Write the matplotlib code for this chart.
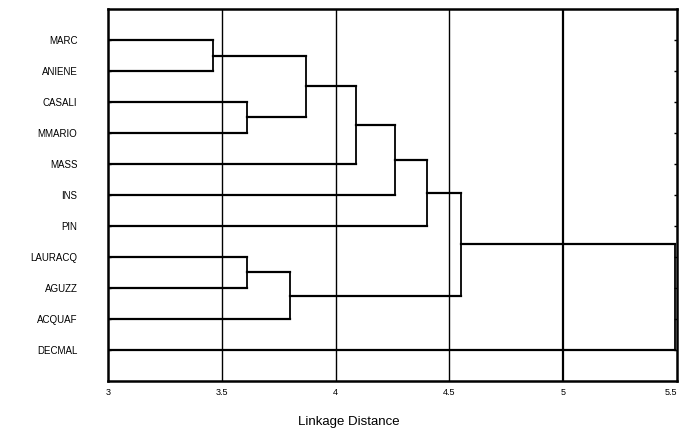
import numpy as np
import matplotlib
matplotlib.use('Agg')
import matplotlib.pyplot as plt

plt.rcParams['font.family'] = ['Liberation Sans', 'DejaVu Sans']

# Leaves, top to bottom
leaves = ['MARC', 'ANIENE', 'CASALI', 'MMARIO', 'MASS', 'INS', 'PIN',
          'LAURACQ', 'AGUZZ', 'ACQUAF', 'DECMAL']

# Joins: (left node, right node, linkage distance); new nodes numbered from 11
join_left = [0, 2, 11, 13, 14, 15, 7, 17, 16, 19]
join_right = [1, 3, 12, 4, 5, 6, 8, 9, 18, 10]
join_dist = [3.46, 3.61, 3.87, 4.09, 4.26, 4.40, 3.61, 3.80, 4.55, 5.49]

x_min, x_max = 3.0, 5.5
xticks = [3, 3.5, 4, 4.5, 5, 5.5]
xtick_labels = ['3', '3.5', '4', '4.5', '5', '5.5']

fig = plt.figure(figsize=(6.81, 4.29), dpi=100)
ax = fig.add_axes([0.1586, 0.112, 0.8355, 0.867])

# node positions: y (leaf index) and x (height)
pos_y = {i: i + 1 for i in range(len(leaves))}
pos_x = {i: x_min for i in range(len(leaves))}

for k, (a, b, d) in enumerate(zip(join_left, join_right, join_dist)):
    node = len(leaves) + k
    ax.plot([pos_x[a], d], [pos_y[a], pos_y[a]], color='black', lw=1.6)
    ax.plot([pos_x[b], d], [pos_y[b], pos_y[b]], color='black', lw=1.6)
    ax.plot([d, d], [pos_y[a], pos_y[b]], color='black', lw=1.3)
    pos_y[node] = (pos_y[a] + pos_y[b]) / 2
    pos_x[node] = d

for g in [3.5, 4, 4.5, 5]:
    ax.axvline(g, color='black', lw=1.6 if g == 5 else 1.0, zorder=0)

ax.set_xlim(x_min, x_max)
ax.set_ylim(len(leaves) + 1, 0)

ax.set_xticks(xticks)
ax.set_xticklabels(xtick_labels, fontsize=6.5)
ax.get_xticklabels()[-1].set_horizontalalignment('right')
ax.set_yticks(range(1, len(leaves) + 1))
ax.set_yticklabels(leaves, fontsize=7)
ax.tick_params(axis='x', length=0, pad=5)
ax.tick_params(axis='y', length=0, pad=22)
ax.tick_params(axis='y', which='both', right=True, direction='in', length=2, width=1)

for s in ax.spines.values():
    s.set_linewidth(1.8)

ax.set_xlabel('Linkage Distance', fontsize=9.5, labelpad=9)
ax.xaxis.set_label_coords(0.424, -0.095)

fig.savefig('out.png', dpi=100)
